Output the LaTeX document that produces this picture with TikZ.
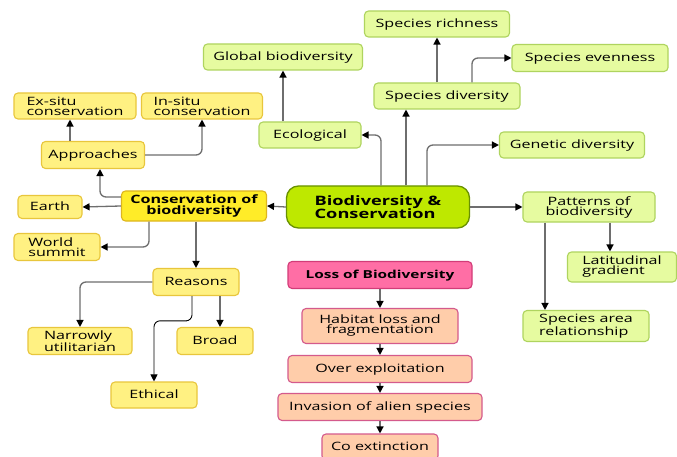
\documentclass[tikz,border=0pt]{standalone}
\usepackage{fontspec}
\setmainfont{Open Sans}[FakeStretch=1.4]
\usetikzlibrary{arrows.meta,calc}
\definecolor{gfill}{RGB}{230,251,160}
\definecolor{gdraw}{RGB}{175,212,95}
\definecolor{cfill}{RGB}{190,232,0}
\definecolor{cdraw}{RGB}{105,145,0}
\definecolor{yfill}{RGB}{255,241,130}
\definecolor{ydraw}{RGB}{232,198,60}
\definecolor{sfill}{RGB}{255,236,40}
\definecolor{sdraw}{RGB}{222,182,30}
\definecolor{lfill}{RGB}{255,110,165}
\definecolor{ldraw}{RGB}{210,60,120}
\definecolor{ofill}{RGB}{255,205,170}
\definecolor{odraw}{RGB}{212,90,140}
\definecolor{linegray}{RGB}{110,110,110}
\tikzset{
  box/.style={draw, rounded corners=4pt, line width=1.1pt, inner sep=0pt, font=\fontsize{11.5}{10}\selectfont, text=black},
  one/.style={text height=8.4pt, text depth=0.6pt},
  gbox/.style={box, fill=gfill, draw=gdraw},
  ybox/.style={box, fill=yfill, draw=ydraw},
  sbox/.style={box, fill=sfill, draw=sdraw, font=\fontsize{11.5}{10.5}\selectfont\bfseries},
  cbox/.style={box, fill=cfill, draw=cdraw, rounded corners=12pt, line width=1.3pt, font=\fontsize{13}{13.3}\selectfont\bfseries},
  lbox/.style={box, fill=lfill, draw=ldraw, font=\fontsize{11}{10}\selectfont\bfseries},
  obox/.style={box, fill=ofill, draw=odraw},
  conn/.style={draw=linegray, line width=1.3pt, rounded corners=6pt, -{Triangle[length=7pt,width=7pt,color=black]}},
  bconn/.style={conn, draw=black, line width=0.9pt},
  wh/.style 2 args={minimum width=#1pt, minimum height=#2pt}
}
\begin{document}
\begin{tikzpicture}[x=1pt,y=-1pt]
\clip (0,0) rectangle (677,457);
\fill[white] (0,0) rectangle (677,457);
% green nodes
\node[gbox, one, wh={145}{26}] (sprich) at (437,24) {Species richness};
\node[gbox, one, wh={159}{26}] (glob) at (283,57) {Global biodiversity};
\node[gbox, one, wh={156}{27}] (even) at (590,58) {Species evenness};
\node[gbox, one, wh={146}{26}] (spdiv) at (447,96) {Species diversity};
\node[gbox, one, wh={102}{26}] (eco) at (310,135) {Ecological};
\node[gbox, one, wh={145}{26}] (gen) at (572,145) {Genetic diversity};
\node[gbox, wh={132}{30}, align=center] (pat) at (589,207) {Patterns of\\biodiversity};
\node[gbox, wh={109}{30}, align=left] (lat) at (622,267) {Latitudinal\\gradient};
\node[gbox, wh={126}{31}, align=left] (sparea) at (586,326) {Species area\\relationship};
% central
\node[cbox, wh={183}{42}, align=left] (bio) at (378,207) {Biodiversity \&\\Conservation};
% yellow nodes
\node[ybox, wh={122}{26}, align=left] (exsitu) at (75,106) {Ex-situ\\conservation};
\node[ybox, wh={121}{26}, align=left] (insitu) at (202,106) {In-situ\\conservation};
\node[ybox, one, wh={103}{27}] (appr) at (93,155) {Approaches};
\node[sbox, wh={145}{30}, align=center] (cons) at (194,206) {Conservation of\\biodiversity};
\node[ybox, one, wh={64}{23}] (earth) at (50,207) {Earth};
\node[ybox, wh={86}{27}, align=left] (ws) at (57,247) {World\\summit};
\node[ybox, one, wh={86}{27}] (reasons) at (196,282) {Reasons};
\node[ybox, wh={104}{27}, align=left] (narrow) at (80,341) {Narrowly\\utilitarian};
\node[ybox, one, wh={76}{27}] (broad) at (215,341) {Broad};
\node[ybox, one, wh={86}{26}] (ethical) at (154,395) {Ethical};
% loss chain
\node[lbox, one, wh={184}{27}] (loss) at (380,275) {Loss of Biodiversity};
\node[obox, wh={156}{35}, align=center] (habitat) at (380,326) {Habitat loss and\\fragmentation};
\node[obox, one, wh={184}{27}] (over) at (380,369) {Over exploitation};
\node[obox, one, wh={204}{27}] (inv) at (380,407) {Invasion of alien species};
\node[obox, one, wh={116}{26}] (coext) at (380,447) {Co extinction};
% helper coordinates
\coordinate (b1) at ([xshift=3pt]bio.north);
\coordinate (b2) at ([xshift=28pt]bio.north);
\coordinate (b3) at ([xshift=49pt]bio.north);
\coordinate (sd1) at ([xshift=25pt]spdiv.north);
\coordinate (c1) at ([yshift=9pt]cons.west);
\coordinate (ap1) at ([xshift=7pt]appr.south);
\coordinate (ex1) at ([xshift=-5pt]exsitu.south);
\coordinate (c2) at ([xshift=-45pt]cons.south);
\coordinate (r1) at ([xshift=-4pt]reasons.south);
\coordinate (r2) at ([xshift=24pt]reasons.south);
\coordinate (p1) at ([xshift=-44pt]pat.south);
\coordinate (p2) at ([xshift=21pt]pat.south);
% connectors
\draw[conn] (b1) |- (eco.east);
\draw[conn] (b2) -- (b2 |- spdiv.south);
\draw[conn] (b3) |- (gen.west);
\draw[conn] (eco.north -| glob.south) -- (glob.south);
\draw[conn] (spdiv.north -| sprich.south) -- (sprich.south);
\draw[conn] (sd1) |- (even.west);
\draw[conn] (bio.west) -- (cons.east);
\draw[conn] (bio.east) -- (pat.west);
\draw[conn] (cons.west) -- (earth.east);
\draw[conn] (c1) -| (ap1);
\draw[conn] (appr.north -| ex1) -- (ex1);
\draw[conn] (appr.east) -| (insitu.south);
\draw[conn] (c2) |- (ws.east);
\draw[conn] (cons.south -| reasons.north) -- (reasons.north);
\draw[conn] (reasons.west) -| (narrow.north);
\draw[conn] (r2) -- (r2 |- broad.north);
\draw[bconn] (r1) |- ($(r1)!0.29!(ethical.north)$) -| (ethical.north);
\draw[conn] (loss.south) -- (habitat.north);
\draw[conn] (habitat.south) -- (over.north);
\draw[conn] (over.south) -- (inv.north);
\draw[conn] (inv.south) -- (coext.north);
\draw[conn] (p1) -- (p1 |- sparea.north);
\draw[conn] (p2) -- (p2 |- lat.north);
\end{tikzpicture}
\end{document}
